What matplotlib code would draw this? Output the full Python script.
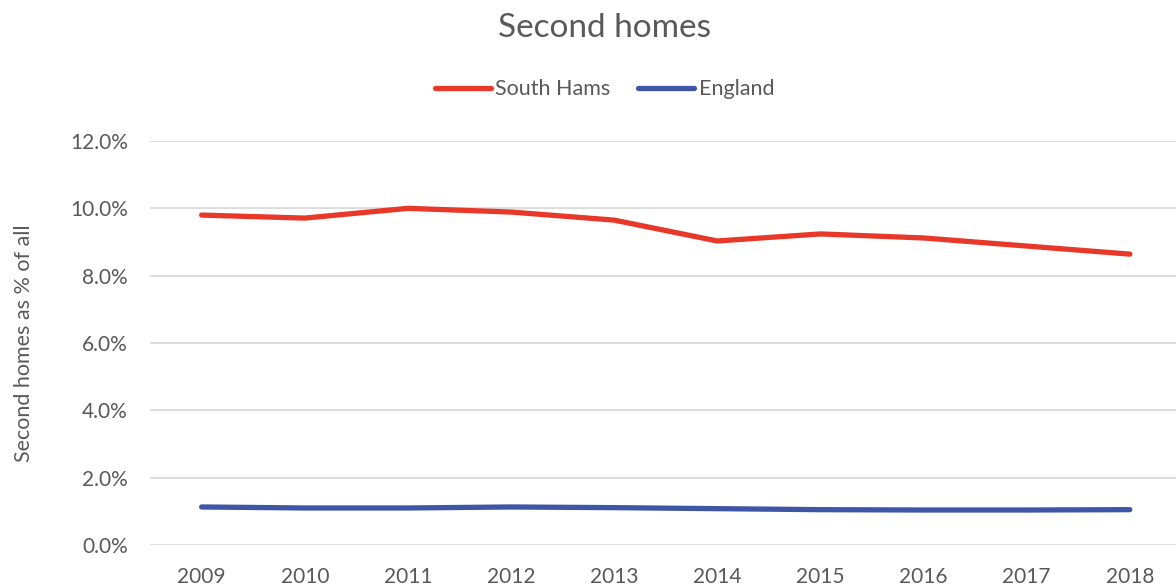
#!/usr/bin/env python3
import matplotlib
matplotlib.use('Agg')
import matplotlib.pyplot as plt
import numpy as np

years = ['2009', '2010', '2011', '2012', '2013', '2014', '2015', '2016', '2017', '2018']
south_hams = [9.80, 9.71, 10.00, 9.89, 9.65, 9.03, 9.24, 9.12, 8.88, 8.64]
england = [1.13, 1.10, 1.10, 1.13, 1.11, 1.08, 1.05, 1.04, 1.04, 1.05]

grey = '#595959'
plt.rcParams['font.family'] = ['Lato', 'DejaVu Sans']

fig = plt.figure(figsize=(11.76, 5.88), dpi=100, facecolor='white')
ax = fig.add_axes([0.1276, 0.0731, 0.8770, 0.6871])

x = np.arange(len(years))
ax.plot(x, south_hams, color='#E8382A', lw=3.8, solid_capstyle='round',
        solid_joinstyle='round', label='South Hams')
ax.plot(x, england, color='#3F56A6', lw=3.8, solid_capstyle='round',
        solid_joinstyle='round', label='England')

ax.set_xlim(-0.5, len(years) - 0.5)
ax.set_ylim(0, 12)
ax.set_yticks(np.arange(0, 12.1, 2))
ax.set_yticklabels(['%.1f%%' % v for v in np.arange(0, 12.1, 2)])
ax.set_xticks(x)
ax.set_xticklabels(years)
ax.tick_params(axis='both', length=0, labelsize=15, colors=grey)
ax.tick_params(axis='y', pad=16)
ax.tick_params(axis='x', pad=16)
ax.grid(axis='y', color='#D9D9D9', lw=1.3)
ax.set_axisbelow(True)
for s in ax.spines.values():
    s.set_visible(False)

ax.set_ylabel('Second homes as % of all', fontsize=15.5, color=grey, labelpad=26)
fig.text(0.514, 0.952, 'Second homes', ha='center', va='center', fontsize=24, color=grey)
leg = fig.legend(loc='center', bbox_to_anchor=(0.514, 0.848), ncol=2, frameon=False,
                 fontsize=15.5, handlelength=2.6, handletextpad=0.2, columnspacing=1.3)
for t in leg.get_texts():
    t.set_color(grey)

fig.savefig('out.png', dpi=100, facecolor='white')
